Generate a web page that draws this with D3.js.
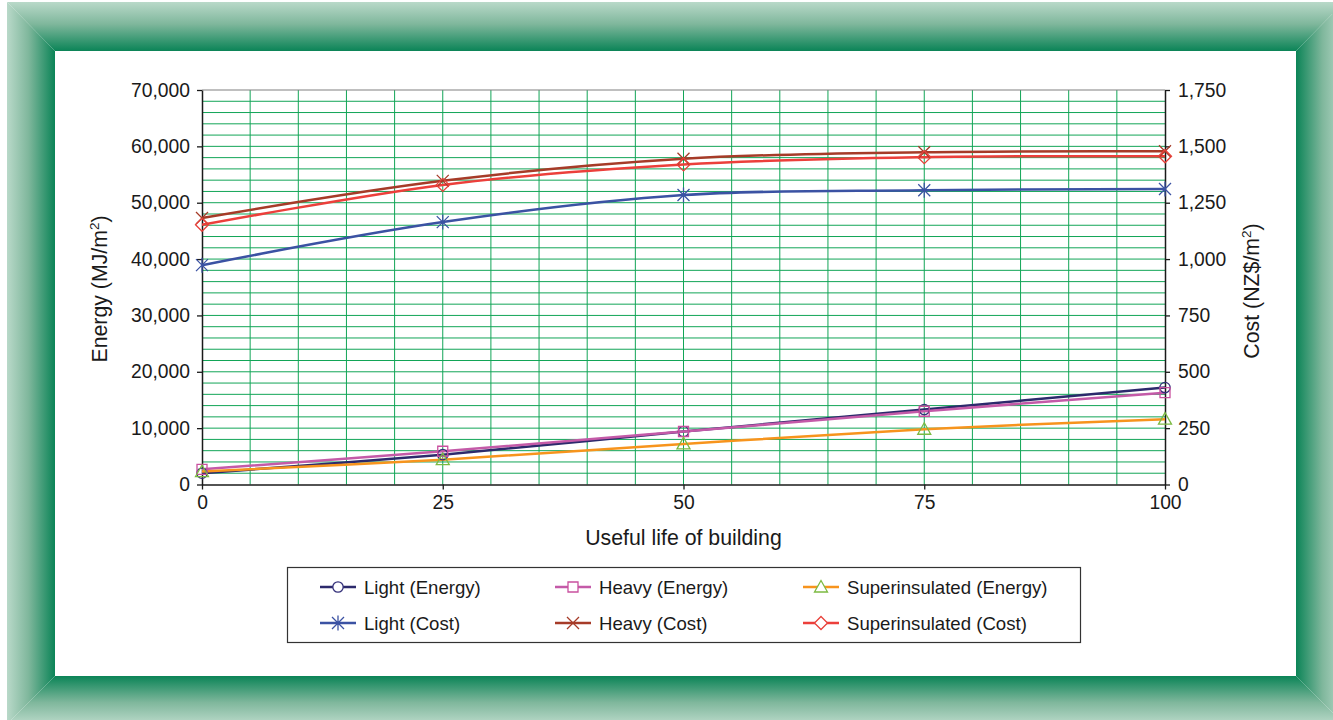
<!DOCTYPE html>
<html>
<head>
<meta charset="utf-8">
<script src="https://cdn.jsdelivr.net/npm/d3@7"></script>
<style>
  body { margin: 0; background: #fff; }
  svg { display: block; font-family: "Liberation Sans", Arial, sans-serif; }
</style>
</head>
<body>
<svg id="chart" width="1333" height="720"></svg>
<script>
// Energy and cost over the useful life of a building

const years = [0, 25, 50, 75, 100];
const lightEnergy = [2000, 5300, 9400, 13300, 17200];
const heavyEnergy = [2700, 5900, 9400, 13000, 16300];
const superEnergy = [2300, 4400, 7200, 9800, 11600];
const lightCost = [973, 1164, 1284, 1305, 1311];
const heavyCost = [1182, 1347, 1445, 1474, 1478];
const superCost = [1152, 1329, 1420, 1452, 1456];

const xTicks = [0, 25, 50, 75, 100];
const energyTicks = [0, 10000, 20000, 30000, 40000, 50000, 60000, 70000];
const costTicks = [0, 250, 500, 750, 1000, 1250, 1500, 1750];

const seriesNames = ["Light (Energy)", "Heavy (Energy)", "Superinsulated (Energy)",
                     "Light (Cost)", "Heavy (Cost)", "Superinsulated (Cost)"];

let svg = d3.select("#chart");

// ---- green bevelled frame ----
const outer = { l: 7, t: 2, r: 1344, b: 724 };
const inner = { l: 55, t: 51, r: 1296, b: 676 };
let defs = svg.append("defs");
function grad(id, x1, y1, x2, y2) {
    let g = defs.append("linearGradient").attr("id", id)
        .attr("gradientUnits", "userSpaceOnUse")
        .attr("x1", x1).attr("y1", y1).attr("x2", x2).attr("y2", y2);
    g.append("stop").attr("offset", "0%").attr("stop-color", "#b9d9c9");
    g.append("stop").attr("offset", "45%").attr("stop-color", "#7fb79c");
    g.append("stop").attr("offset", "100%").attr("stop-color", "#0b8457");
}
grad("gTop", 0, outer.t, 0, inner.t);
grad("gBot", 0, outer.b, 0, inner.b);
grad("gLeft", outer.l, 0, inner.l, 0);
grad("gRight", outer.r, 0, inner.r, 0);

const sides = [
    { fill: "url(#gTop)", pts: [[outer.l, outer.t], [outer.r, outer.t], [inner.r, inner.t], [inner.l, inner.t]] },
    { fill: "url(#gBot)", pts: [[outer.l, outer.b], [outer.r, outer.b], [inner.r, inner.b], [inner.l, inner.b]] },
    { fill: "url(#gLeft)", pts: [[outer.l, outer.t], [inner.l, inner.t], [inner.l, inner.b], [outer.l, outer.b]] },
    { fill: "url(#gRight)", pts: [[outer.r, outer.t], [inner.r, inner.t], [inner.r, inner.b], [outer.r, outer.b]] }
];
svg.selectAll("polygon.side").data(sides)
    .join("polygon")
    .attr("class", "side")
    .attr("points", d => d.pts.map(p => p.join(",")).join(" "))
    .attr("fill", d => d.fill);

// ---- scales ----
const plot = { left: 202, right: 1165, top: 90, bottom: 484.5 };
let x = d3.scaleLinear().domain([0, 100]).range([plot.left, plot.right]);
let yE = d3.scaleLinear().domain([0, 70000]).range([plot.bottom, plot.top]);
let yC = d3.scaleLinear().domain([0, 1750]).range([plot.bottom, plot.top]);

// ---- gridlines ----
const gridColor = "#12a557";
let grid = svg.append("g");
grid.selectAll("line.h").data(d3.range(2000, 70000, 2000))
    .join("line")
    .attr("class", "h")
    .attr("x1", plot.left).attr("x2", plot.right)
    .attr("y1", d => yE(d)).attr("y2", d => yE(d))
    .attr("stroke", gridColor).attr("stroke-width", 1);
grid.selectAll("line.v").data(d3.range(5, 100, 5))
    .join("line")
    .attr("class", "v")
    .attr("x1", d => x(d)).attr("x2", d => x(d))
    .attr("y1", plot.top).attr("y2", plot.bottom)
    .attr("stroke", gridColor).attr("stroke-width", 1);
// top border
svg.append("line")
    .attr("x1", plot.left).attr("x2", plot.right)
    .attr("y1", plot.top).attr("y2", plot.top)
    .attr("stroke", "#808080").attr("stroke-width", 1.2);

// ---- axes ----
const fmt = d3.format(",");
function styleAxis(g) {
    g.selectAll("path").attr("stroke", "#1a1a1a").attr("stroke-width", 1.5);
    g.selectAll("line").attr("stroke", "#1a1a1a").attr("stroke-width", 1.3);
    g.selectAll("text").attr("font-size", 19.3).attr("fill", "#1a1a1a")
        .attr("font-family", "'Liberation Sans', Arial, sans-serif");
}
svg.append("g")
    .attr("transform", "translate(" + plot.left + ",0)")
    .call(d3.axisLeft(yE).tickValues(energyTicks).tickFormat(fmt).tickSize(5).tickPadding(7).tickSizeOuter(0))
    .call(styleAxis);
svg.append("g")
    .attr("transform", "translate(" + plot.right + ",0)")
    .call(d3.axisRight(yC).tickValues(costTicks).tickFormat(fmt).tickSize(5).tickPadding(8).tickSizeOuter(0))
    .call(styleAxis);
svg.append("g")
    .attr("transform", "translate(0," + plot.bottom + ")")
    .call(d3.axisBottom(x).tickValues(xTicks).tickSize(5).tickPadding(6).tickSizeOuter(0))
    .call(styleAxis);

// ---- axis titles ----
svg.append("text")
    .attr("x", (plot.left + plot.right) / 2).attr("y", 545)
    .attr("text-anchor", "middle").attr("font-size", 21.3).attr("fill", "#1a1a1a")
    .text("Useful life of building");

function rotTitle(cx, cy, main) {
    let t = svg.append("text")
        .attr("transform", "translate(" + cx + "," + cy + ") rotate(-90)")
        .attr("text-anchor", "middle").attr("font-size", 21.3).attr("fill", "#1a1a1a");
    t.append("tspan").text(main);
    t.append("tspan").attr("font-size", 13.5).attr("dy", -8).text("2");
    t.append("tspan").attr("dy", 8).text(")");
}
rotTitle(107, 289, "Energy (MJ/m");
rotTitle(1259, 291, "Cost (NZ$/m");

// ---- series ----
const series = [
    { name: seriesNames[0], vals: lightEnergy, y: yE, line: "#2c2a6c", mark: "#34307a", shape: "circle" },
    { name: seriesNames[1], vals: heavyEnergy, y: yE, line: "#c45aa8", mark: "#c9509f", shape: "square" },
    { name: seriesNames[2], vals: superEnergy, y: yE, line: "#f7941d", mark: "#7cba42", shape: "triangle" },
    { name: seriesNames[3], vals: lightCost, y: yC, line: "#3b52a3", mark: "#3b52a3", shape: "star" },
    { name: seriesNames[4], vals: heavyCost, y: yC, line: "#a63b28", mark: "#a63b28", shape: "x" },
    { name: seriesNames[5], vals: superCost, y: yC, line: "#ec3f3b", mark: "#e8403a", shape: "diamond" }
];

function markerPath(shape) {
    switch (shape) {
        case "circle": return d3.arc()({ innerRadius: 0, outerRadius: 5.2, startAngle: 0, endAngle: 2 * Math.PI });
        case "square": return "M-5,-5H5V5H-5Z";
        case "triangle": return "M0,-6.5L6.5,5L-6.5,5Z";
        case "diamond": return "M0,-6.5L6.5,0L0,6.5L-6.5,0Z";
        case "x": return "M-6,-6L6,6M-6,6L6,-6";
        case "star": return "M-6,-6L6,6M-6,6L6,-6M0,-7.5V7.5";
    }
}

let plotG = svg.append("g");
series.forEach(s => {
    let pts = years.map((yr, i) => [x(yr), s.y(s.vals[i])]);
    plotG.append("path")
        .datum(pts)
        .attr("d", d3.line().curve(d3.curveCardinal))
        .attr("fill", "none")
        .attr("stroke", s.line)
        .attr("stroke-width", 2.5);
});
series.forEach(s => {
    plotG.selectAll(null).data(years)
        .join("path")
        .attr("transform", (yr, i) => "translate(" + x(yr) + "," + s.y(s.vals[i]) + ")")
        .attr("d", markerPath(s.shape))
        .attr("fill", "none")
        .attr("stroke", s.mark)
        .attr("stroke-width", 1.3);
});

// ---- legend ----
let legend = svg.append("g");
legend.append("rect")
    .attr("x", 287.5).attr("y", 567.5).attr("width", 793).attr("height", 75)
    .attr("fill", "#fff").attr("stroke", "#333").attr("stroke-width", 1.2);
const colX = [320, 555, 803];
const rowY = [587, 623];
series.forEach((s, i) => {
    let lx = colX[i % 3], ly = rowY[Math.floor(i / 3)];
    let g = legend.append("g");
    g.append("line")
        .attr("x1", lx).attr("x2", lx + 36).attr("y1", ly).attr("y2", ly)
        .attr("stroke", s.line).attr("stroke-width", 2.5);
    g.append("path")
        .attr("transform", "translate(" + (lx + 18) + "," + ly + ")")
        .attr("d", markerPath(s.shape))
        .attr("fill", "#fff")
        .attr("stroke", s.mark).attr("stroke-width", 1.3);
    g.append("text")
        .attr("x", lx + 44).attr("y", ly + 6.8)
        .attr("font-size", 18.6).attr("fill", "#1a1a1a")
        .text(s.name);
});
</script>
</body>
</html>
